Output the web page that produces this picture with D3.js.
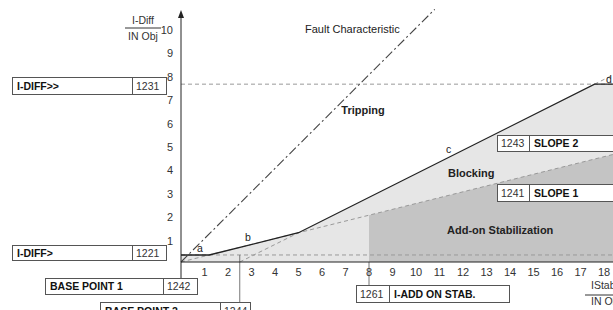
<!DOCTYPE html>
<html>
<head>
<meta charset="utf-8">
<script src="https://cdn.jsdelivr.net/npm/d3@7"></script>
<style>
  html, body { margin: 0; padding: 0; background: #fff; }
  svg { display: block; font-family: "Liberation Sans", Arial, sans-serif; }
</style>
</head>
<body>
<div id="chart"></div>
<script>
// tick labels
const xTicks = [1, 2, 3, 4, 5, 6, 7, 8, 9, 10, 11, 12, 13, 14, 15, 16, 17, 18]
const yTicks = [1, 2, 3, 4, 5, 6, 7, 8, 9, 10]

// settings (in I/IN Obj)
const iDiffLow = 0.3
const iDiffHigh = 7.6
const basePoint2 = 2.5
const iAddOnStab = 8

// tripping characteristic a-b-c-d
const charX = [0, 1.2, 5, 17.6, 18.8]
const charY = [0.3, 0.3, 1.25, 7.6, 7.6]
// slope 1 (from base point 1) and slope 2 (from base point 2) guide lines
const slope1X = [0, 18.8]
const slope1Y = [0, 4.7]
const slope2X = [2.5, 5]
const slope2Y = [0, 1.25]
const slope2ExtX = [17.6, 18.8]
const slope2ExtY = [7.6, 8.2]
// fault characteristic
const faultX = [0, 10.8]
const faultY = [0, 10.8]

const width = 613, height = 310
const x = d3.scaleLinear().domain([0, 18.8]).range([181, 181 + 18.8 * 23.5])
const y = d3.scaleLinear().domain([0, 10]).range([262, 28])

const svg = d3.select('#chart').append('svg')
  .attr('width', width)
  .attr('height', height)

const line = d3.line().x(d => x(d[0])).y(d => y(d[1]))
const zip = (a, b) => a.map((v, i) => [v, b[i]])

// light gray: blocking area under the characteristic
const charPts = zip(charX, charY)
svg.append('path')
  .attr('d', line([[0, 0], ...charPts, [18.8, 0]]) + 'Z')
  .attr('fill', '#e6e6e6')

// dark gray: add-on stabilization
const s1at = v => slope1Y[1] * v / slope1X[1]
svg.append('path')
  .attr('d', line([[iAddOnStab, 0], [iAddOnStab, s1at(iAddOnStab)], [18.8, s1at(18.8)], [18.8, 0]]) + 'Z')
  .attr('fill', '#c4c4c4')

// dashed helper lines
const dashed = (pts) => svg.append('path')
  .attr('d', line(pts))
  .attr('fill', 'none')
  .attr('stroke', '#999')
  .attr('stroke-width', 1)
  .attr('stroke-dasharray', '4,3')
dashed([[0, iDiffHigh], [18.8, iDiffHigh]])
dashed([[0, iDiffLow], [18.8, iDiffLow]])
dashed(zip(slope1X, slope1Y))
dashed(zip(slope2X, slope2Y))
dashed(zip(slope2ExtX, slope2ExtY))

// fault characteristic
svg.append('path')
  .attr('d', line(zip(faultX, faultY)))
  .attr('fill', 'none')
  .attr('stroke', '#444')
  .attr('stroke-width', 1.1)
  .attr('stroke-dasharray', '9,3,2,3')

// characteristic
svg.append('path')
  .attr('d', line(charPts))
  .attr('fill', 'none')
  .attr('stroke', '#222')
  .attr('stroke-width', 1.3)

// vertical leader lines to setting boxes
const leader = (xv, y1, y2) => svg.append('line')
  .attr('x1', x(xv)).attr('x2', x(xv))
  .attr('y1', y1).attr('y2', y2)
  .attr('stroke', '#777').attr('stroke-width', 1)
leader(basePoint2, y(iDiffLow), 302)
leader(iAddOnStab, y(0), 285)

// axes
svg.append('line')
  .attr('x1', x(0)).attr('x2', x(0))
  .attr('y1', 16).attr('y2', 278)
  .attr('stroke', '#222').attr('stroke-width', 1)
svg.append('path')
  .attr('d', `M${x(0)},10 L${x(0) - 3},18 L${x(0) + 3},18 Z`)
  .attr('fill', '#222')
svg.append('line')
  .attr('x1', x(0)).attr('x2', width)
  .attr('y1', y(0)).attr('y2', y(0))
  .attr('stroke', '#222').attr('stroke-width', 1.2)

svg.append('g').selectAll('text')
  .data(xTicks).enter().append('text')
  .attr('x', d => x(d))
  .attr('y', y(0) + 14)
  .attr('text-anchor', 'middle')
  .attr('font-size', 11)
  .attr('fill', '#333')
  .text(d => d)

svg.append('g').selectAll('text')
  .data(yTicks).enter().append('text')
  .attr('x', x(0) - 8)
  .attr('y', d => y(d) + 6)
  .attr('text-anchor', 'end')
  .attr('font-size', 11)
  .attr('fill', '#333')
  .text(d => d)

// axis titles as fractions
const fraction = (cx, top, num, den, anchor) => {
  svg.append('text').attr('x', cx).attr('y', top)
    .attr('text-anchor', anchor).attr('font-size', 10.5).attr('fill', '#333').text(num)
  svg.append('text').attr('x', cx).attr('y', top + 16)
    .attr('text-anchor', anchor).attr('font-size', 10.5).attr('fill', '#333').text(den)
}
fraction(143, 24, 'I-Diff', 'IN Obj', 'middle')
svg.append('line').attr('x1', 125).attr('x2', 161).attr('y1', 28).attr('y2', 28)
  .attr('stroke', '#333')
fraction(591, 289, 'IStab', 'IN Obj', 'start')
svg.append('line').attr('x1', 585).attr('x2', width).attr('y1', 295).attr('y2', 295)
  .attr('stroke', '#333')

// region labels
const label = (tx, ty, t, opts = {}) => svg.append('text')
  .attr('x', tx).attr('y', ty)
  .attr('font-size', opts.size || 11)
  .attr('font-weight', opts.bold ? 'bold' : 'normal')
  .attr('text-anchor', opts.anchor || 'start')
  .attr('fill', '#222')
  .text(t)
label(363, 114, 'Tripping', { bold: true, anchor: 'middle' })
label(448, 177, 'Blocking', { bold: true })
label(447, 234, 'Add-on Stabilization', { bold: true })
label(305, 33, 'Fault Characteristic', { size: 11 })
label(197, 252, 'a', { size: 10.5 })
label(245, 241, 'b', { size: 10.5 })
label(446, 153, 'c', { size: 10.5 })
label(606, 83, 'd', { size: 10.5 })

// setting boxes
const settingNames = ['I-DIFF>>', 'I-DIFF>', 'BASE POINT 1', 'BASE POINT 2', 'I-ADD ON STAB.', 'SLOPE 2', 'SLOPE 1']
const settingAddrs = ['1231', '1221', '1242', '1244', '1261', '1243', '1241']
const boxes = [
  { x0: 12, x1: 166, div: 132, y0: 77, h: 17, addrFirst: false },
  { x0: 12, x1: 166, div: 132, y0: 245, h: 15, addrFirst: false },
  { x0: 45, x1: 197, div: 163, y0: 278, h: 16, addrFirst: false },
  { x0: 100, x1: 250, div: 220, y0: 302, h: 17, addrFirst: false },
  { x0: 356, x1: 509, div: 389, y0: 285, h: 17, addrFirst: true },
  { x0: 497, x1: 640, div: 529, y0: 135, h: 16, addrFirst: true },
  { x0: 497, x1: 640, div: 529, y0: 184, h: 17, addrFirst: true }
]
boxes.forEach((b, i) => {
  const g = svg.append('g')
  g.append('rect')
    .attr('x', b.x0 + 0.5).attr('y', b.y0 + 0.5)
    .attr('width', b.x1 - b.x0).attr('height', b.h)
    .attr('fill', '#fff').attr('stroke', '#555')
  g.append('line')
    .attr('x1', b.div + 0.5).attr('x2', b.div + 0.5)
    .attr('y1', b.y0).attr('y2', b.y0 + b.h)
    .attr('stroke', '#555')
  const ty = b.y0 + b.h / 2 + 4
  const nameX = b.addrFirst ? b.div + 5 : b.x0 + 5
  const addrX = b.addrFirst ? b.x0 + 4 : b.div + 4
  g.append('text').attr('x', nameX).attr('y', ty)
    .attr('font-size', 10.5).attr('font-weight', 'bold').attr('fill', '#111')
    .text(settingNames[i])
  g.append('text').attr('x', addrX).attr('y', ty)
    .attr('font-size', 10.5).attr('fill', '#333')
    .text(settingAddrs[i])
})
</script>
</body>
</html>
